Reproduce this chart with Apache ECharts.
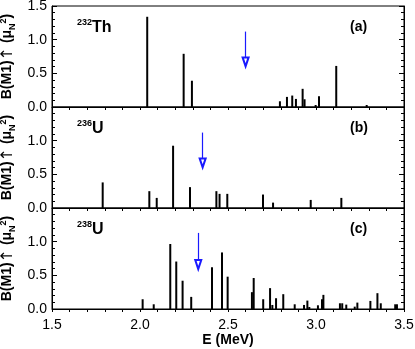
<!DOCTYPE html>
<html>
<head>
<meta charset="utf-8">
<script src="https://cdn.jsdelivr.net/npm/echarts@6/dist/echarts.min.js"></script>
<style>
  html, body { margin: 0; padding: 0; background: #fff; }
  #chart { width: 415px; height: 349px; }
</style>
</head>
<body>
<div id="chart"></div>
<script>
// 232Th
const thEnergy = [2.041, 2.248, 2.295, 2.795, 2.835, 2.865, 2.886, 2.924, 2.935, 2.998, 3.017, 3.115, 3.288];
const thB = [1.34, 0.79, 0.39, 0.085, 0.15, 0.17, 0.12, 0.27, 0.115, 0.03, 0.16, 0.61, 0.03];
// 236U
const u236Energy = [1.788, 2.053, 2.095, 2.188, 2.284, 2.434, 2.452, 2.496, 2.699, 2.756, 2.97, 3.144];
const u236B = [0.38, 0.25, 0.15, 0.925, 0.31, 0.25, 0.21, 0.21, 0.2, 0.08, 0.12, 0.15];
// 238U
const u238Energy = [2.015, 2.078, 2.172, 2.206, 2.242, 2.291, 2.409, 2.466, 2.498, 2.636, 2.646, 2.70, 2.739, 2.752, 2.773,
  2.814, 2.879, 2.932, 2.951, 2.962, 3.011, 3.034, 3.042, 3.136, 3.149, 3.172, 3.22, 3.235, 3.309, 3.349, 3.368, 3.45, 3.46];
const u238B = [0.145, 0.07, 0.965, 0.705, 0.42, 0.18, 0.62, 0.84, 0.48, 0.25, 0.46, 0.145, 0.31, 0.06, 0.16,
  0.22, 0.07, 0.06, 0.125, 0.03, 0.055, 0.145, 0.21, 0.085, 0.085, 0.065, 0.035, 0.095, 0.12, 0.235, 0.085, 0.07, 0.07];

// arrows: [energy, y start, y end]
const arrowE = [2.60, 2.356, 2.331];
const arrowFrom = [1.12, 1.12, 1.13];
const arrowTo = [0.67, 0.67, 0.66];

const nuclei = [['232', 'Th'], ['236', 'U'], ['238', 'U']];
const panelTags = ['(a)', '(b)', '(c)'];
const xTicks = [1.5, 2.0, 2.5, 3.0, 3.5];
const yTicks = [0.0, 0.5, 1.0, 1.5];

const energies = [thEnergy, u236Energy, u238Energy];
const strengths = [thB, u236B, u238B];

const FONT = "'Liberation Sans', Arial, Helvetica, sans-serif";
const tops = [6, 107, 208];
const H = 101;

const chart = echarts.init(document.getElementById('chart'));

const grid = [], xAxis = [], yAxis = [], series = [], graphic = [];

tops.forEach((top, i) => {
  grid.push({
    left: 52, width: 352, top: top, height: H, outerBoundsMode: 'none', containLabel: false,
    show: true, borderColor: '#000', borderWidth: 1, backgroundColor: 'transparent'
  });

  xAxis.push({
    type: 'value', gridIndex: i, min: xTicks[0], max: xTicks[xTicks.length - 1], interval: 0.5,
    axisLine: { show: true, onZero: false, lineStyle: { color: '#000', width: 1 } },
    axisTick: { show: true, inside: false, length: 3, lineStyle: { color: '#000' } },
    minorTick: { show: true, splitNumber: 5, length: 3, lineStyle: { color: '#000' } },
    splitLine: { show: false },
    axisLabel: {
      show: i === 2, color: '#000', fontSize: 14, fontFamily: FONT, margin: 9,
      formatter: v => v.toFixed(1)
    },
    name: i === 2 ? 'E (MeV)' : '',
    nameLocation: 'middle', nameGap: 24,
    nameTextStyle: { color: '#000', fontSize: 14, fontWeight: 'bold', fontFamily: FONT }
  });

  yAxis.push({
    type: 'value', gridIndex: i, min: 0, max: yTicks[yTicks.length - 1], interval: 0.5,
    axisLine: { show: true, lineStyle: { color: '#000' } },
    axisTick: { show: true, inside: true, length: 5, lineStyle: { color: '#000' } },
    minorTick: { show: true, splitNumber: 5, length: 3, lineStyle: { color: '#000' } },
    splitLine: { show: false },
    axisLabel: {
      color: '#000', fontSize: 14, fontFamily: FONT, margin: 5,
      showMaxLabel: i === 0,
      formatter: v => v.toFixed(1)
    },
    name: '{n|B(M1)}{a|↑}{n| (μ}{sub|N}{sup|2}{n|)}',
    nameLocation: 'middle', nameGap: 25, nameRotate: 90,
    nameTextStyle: {
      color: '#000', fontFamily: FONT,
      rich: {
        n: { fontSize: 14, fontWeight: 'bold', fontFamily: FONT, color: '#000' },
        a: { fontSize: 16, fontWeight: 'normal', fontFamily: "'DejaVu Sans', sans-serif", color: '#000' },
        sub: { fontSize: 9, fontWeight: 'bold', fontFamily: FONT, color: '#000', verticalAlign: 'bottom', lineHeight: 18 },
        sup: { fontSize: 9, fontWeight: 'bold', fontFamily: FONT, color: '#000', verticalAlign: 'top', lineHeight: 18 }
      }
    }
  });
  yAxis.push({
    type: 'value', gridIndex: i, min: 0, max: 1.5, interval: 0.5, position: 'right',
    axisLine: { show: true, lineStyle: { color: '#000' } },
    axisTick: { show: true, inside: true, length: 5, lineStyle: { color: '#000' } },
    minorTick: { show: true, splitNumber: 5, length: 3, lineStyle: { color: '#000' } },
    splitLine: { show: false },
    axisLabel: { show: false }
  });

  series.push({
    type: 'bar', xAxisIndex: i, yAxisIndex: 2 * i, barWidth: 2, silent: true,
    itemStyle: { color: '#000' },
    data: energies[i].map((e, k) => [e, strengths[i][k]]),
    markLine: {
      silent: true,
      symbol: ['none', 'emptyTriangle'],
      symbolSize: [6, 9],
      label: { show: false },
      lineStyle: { color: '#1a1aff', width: 1.2, type: 'solid' },
      data: [[{ coord: [arrowE[i], arrowFrom[i]] }, { coord: [arrowE[i], arrowTo[i]] }]]
    }
  });

  graphic.push({
    type: 'text', left: 77, top: top + 12,
    style: {
      text: '{s|' + nuclei[i][0] + '}{b|' + nuclei[i][1] + '}',
      rich: {
        s: { fontSize: 9, fontWeight: 'bold', fontFamily: FONT, fill: '#000', verticalAlign: 'top', lineHeight: 19 },
        b: { fontSize: 16, fontWeight: 'bold', fontFamily: FONT, fill: '#000', lineHeight: 19 }
      }
    }
  });
  graphic.push({
    type: 'text', left: 350, top: top + 14,
    style: { text: panelTags[i], fontSize: 14, fontWeight: 'bold', fontFamily: FONT, fill: '#000' }
  });
});

chart.setOption({
  animation: false,
  grid, xAxis, yAxis, series, graphic
});
</script>
</body>
</html>
